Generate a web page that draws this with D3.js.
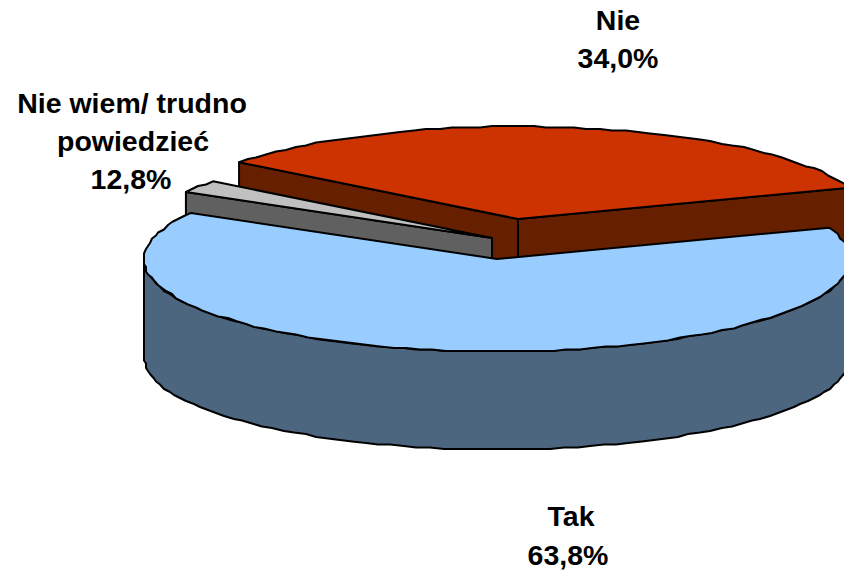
<!DOCTYPE html>
<html><head><meta charset="utf-8">
<script src="https://cdnjs.cloudflare.com/ajax/libs/d3/7.8.5/d3.min.js"></script>
<style>html,body{margin:0;padding:0;background:#fff;overflow:hidden}svg{display:block}
text{font-family:"Liberation Sans",Arial,sans-serif;font-weight:700;font-size:28.5px;fill:#000;text-anchor:middle}</style>
</head><body><div id="c"></div>
<script>
// Drawn wedge shares as they appear in the picture (the printed 12,8% is larger than its wedge)
const categories = ["Tak", "Nie wiem", "Nie"];
const sliceShares = [63.8, 2.2, 34.0];
const printedLabels = [["Tak", "63,8%"], ["Nie wiem/ trudno", "powiedzieć", "12,8%"], ["Nie", "34,0%"]];
const fills = ["#99CCFF", "#C0C0C0", "#CC3300"];
const walls = ["#4D6680", "#606060", "#662000"];
const explode = [[0, 0], [-5, -21], [21, -40]];
const labelAnchors = [[[571, 526], [568, 565]], [[132, 113], [133, 151], [131, 189]], [[618, 30], [618, 68]]];

const W = 844, H = 570, cx = 497, cy = 259, rx = 353, ry = 92.5, depth = 98;
const svg = d3.select("#c").append("svg").attr("width", W).attr("height", H);

const startDeg = 70.2; // clockwise from 12 o'clock
const pie = d3.pie().sort(null).value(d => d)
  .startAngle(startDeg * Math.PI / 180).endAngle((startDeg + 360) * Math.PI / 180);
const arcs = pie(sliceShares);

const px = d3.scaleLinear().domain([-1, 1]).range([cx - rx, cx + rx]);
const py = d3.scaleLinear().domain([-1, 1]).range([cy - ry, cy + ry]);
const pt = (a, ox, oy) => [px(Math.sin(a)) + ox, py(-Math.cos(a)) + oy];
const snap = p => [Math.round(p[0] / 2) * 2, Math.round(p[1] / 1.5) * 1.5]; // the source's slightly uneven outline
const steps = (a0, a1) => {
  const n = Math.max(2, Math.ceil(Math.abs(a1 - a0) / (2.2 * Math.PI / 180)));
  return d3.range(n + 1).map(i => a0 + (a1 - a0) * i / n);
};
const line = d3.line().curve(d3.curveLinear);
const strokeIt = s => s.attr("stroke", "#000").attr("stroke-width", 2).attr("stroke-linejoin", "round");

function draw(i) {
  const d = arcs[i], [ox, oy] = explode[i];
  const apex = [cx + ox, cy + oy];
  const g = svg.append("g");
  // cut faces, only those that turn towards the viewer
  [[d.startAngle, Math.sin(d.startAngle) < 0], [d.endAngle, Math.sin(d.endAngle) > 0]]
    .filter(f => f[1]).forEach(([a]) => {
      const e = pt(a, ox, oy);
      g.append("path").attr("d", line([apex, e, [e[0], e[1] + depth], [apex[0], apex[1] + depth]]) + "Z")
        .attr("fill", walls[i]).call(strokeIt);
    });
  const lo = Math.max(d.startAngle, Math.PI / 2), hi = Math.min(d.endAngle, 3 * Math.PI / 2);
  if (hi > lo) {
    const top = steps(lo, hi).map(a => snap(pt(a, ox, oy)));
    const bot = top.slice().reverse().map(p => [p[0], p[1] + depth]);
    g.append("path").attr("d", line(top.concat(bot)) + "Z").attr("fill", walls[i]).call(strokeIt);
  }
  const rim = steps(d.startAngle, d.endAngle).map((a, k, all) =>
    (k === 0 || k === all.length - 1) ? pt(a, ox, oy) : snap(pt(a, ox, oy)));
  g.append("path").attr("d", line([apex].concat(rim)) + "Z").attr("fill", fills[i]).call(strokeIt);
}
[2, 1, 0].forEach(draw);

printedLabels.forEach((lines, i) => lines.forEach((t, j) => {
  svg.append("text").attr("x", labelAnchors[i][j][0]).attr("y", labelAnchors[i][j][1]).text(t);
}));
</script></body></html>
